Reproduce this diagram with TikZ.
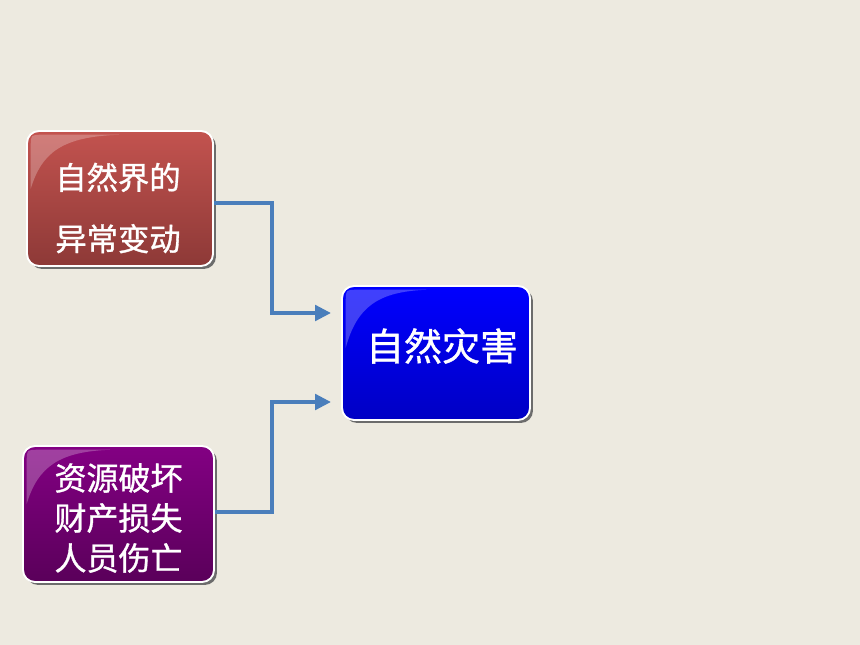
\documentclass[tikz,border=0pt]{standalone}
\usepackage{fontspec}
\setmainfont[FakeBold=1]{Noto Sans CJK SC}
\usetikzlibrary{arrows.meta,shadows}
\definecolor{paper}{HTML}{EDEAE0}
\definecolor{linkblue}{HTML}{4A7EBB}
\definecolor{redtop}{HTML}{C3534F}
\definecolor{redbot}{HTML}{8D3937}
\definecolor{bluetop}{HTML}{0000FF}
\definecolor{bluebot}{HTML}{0000C4}
\definecolor{purptop}{HTML}{830083}
\definecolor{purpbot}{HTML}{5A005A}
\newcommand\gloss[3]{%
  \fill[white, fill opacity=0.25]
    ([xshift=3.5pt,yshift=-12pt]#1.north west)
    -- ([xshift=3.5pt,yshift=-#3]#1.north west)
    .. controls ([xshift=12pt,yshift=-16pt]#1.north west) and ([xshift=28pt,yshift=-5pt]#1.north west)
    .. ([xshift=#2,yshift=-3.5pt]#1.north west)
    -- ([xshift=12pt,yshift=-3.5pt]#1.north west)
    .. controls ([xshift=3.5pt,yshift=-3.5pt]#1.north west) .. cycle;}
\begin{document}
\begin{tikzpicture}[x=0.75pt, y=-0.75pt,
    card/.style={draw=white, line width=1.4pt, rounded corners=9pt,
      inner sep=0pt,
      drop shadow={shadow xshift=2.2pt, shadow yshift=-2.2pt, fill=gray!85!black, opacity=1}},
    cardtext/.style={text=white, align=center, inner sep=0pt},
    link/.style={linkblue, line width=3.6pt, -{Triangle[length=12pt,width=11.5pt]}}]
  \fill[paper] (0,0) rectangle (860,645);
  \useasboundingbox (0,0) rectangle (860,645);
  % boxes
  \node[card, top color=redtop, bottom color=redbot, minimum width=139.5pt,
    minimum height=101.25pt] (nature) at (120,198.5) {};
  \node[card, top color=bluetop, bottom color=bluebot, minimum width=141pt,
    minimum height=100.5pt] (disaster) at (436,353) {};
  \node[card, top color=purptop, bottom color=purpbot, minimum width=143.25pt,
    minimum height=102pt] (loss) at (118.5,514) {};
  \gloss{nature}{70pt}{44pt}
  \gloss{disaster}{64pt}{47pt}
  \gloss{loss}{66pt}{44pt}
  % labels
  \node[cardtext, font=\fontsize{23.5}{46}\selectfont] (naturelabel) at (118,208)
    {自然界的\\异常变动};
  \node[cardtext, font=\fontsize{28.5}{34}\selectfont] (disasterlabel) at (442,346) {自然灾害};
  \node[cardtext, font=\fontsize{24}{30}\selectfont] (losslabel) at (118.5,518)
    {资源破坏\\财产损失\\人员伤亡};
  % connectors
  \coordinate (hinge) at (272,353);
  \draw[link] ([yshift=-3.4pt]nature.east) -| ([yshift=30pt]hinge)
    -- ([yshift=30pt,xshift=-7.5pt]disaster.west);
  \draw[link] ([yshift=1.5pt]loss.east) -| ([yshift=-36.75pt]hinge)
    -- ([yshift=-36.75pt,xshift=-7.5pt]disaster.west);
\end{tikzpicture}
\end{document}
